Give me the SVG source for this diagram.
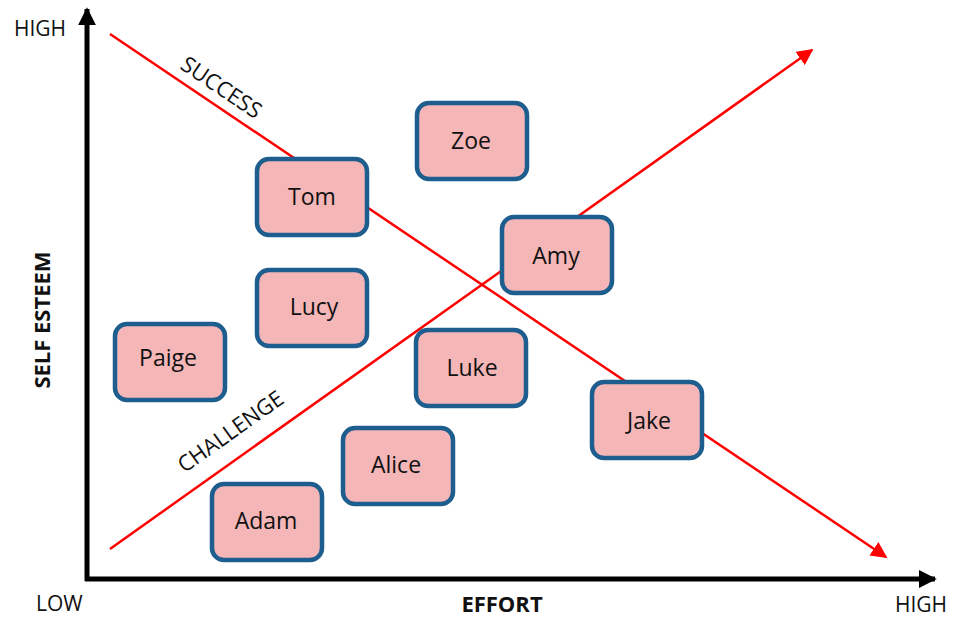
<svg xmlns="http://www.w3.org/2000/svg" width="955" height="618" viewBox="0 0 955 618">
<style>
.box{fill:#F4B6B7;stroke:#1D5E8E;stroke-width:4.5}
.nt{font-family:"Open Sans","Liberation Sans",sans-serif;font-size:23px;fill:#111;text-anchor:middle}
.lbl{font-family:"Open Sans","Liberation Sans",sans-serif;font-size:21px;fill:#111}
.diag{font-family:"Open Sans","Liberation Sans",sans-serif;font-size:22px;fill:#111;text-anchor:middle}
.bold{font-family:"Open Sans","Liberation Sans",sans-serif;font-size:22px;font-weight:bold;fill:#111;text-anchor:middle}
.red{stroke:#FF0000;stroke-width:2.5;fill:none}
.axis{stroke:#000;stroke-width:5;fill:none}
</style>
<defs>
<marker id="ra" viewBox="0 0 10 10" refX="9" refY="5" markerWidth="6.5" markerHeight="6.5" markerUnits="strokeWidth" orient="auto">
<path d="M0,0 L10,5 L0,10 z" fill="#FF0000"/>
</marker>
<marker id="ka" viewBox="0 0 10 10" refX="9" refY="5" markerWidth="3.6" markerHeight="3.6" markerUnits="strokeWidth" orient="auto">
<path d="M0,0 L10,5 L0,10 z" fill="#000"/>
</marker>
</defs>
<rect width="955" height="618" fill="#fff"/>
<g id="connectors">
<line class="axis" x1="87" y1="581" x2="87" y2="9" marker-end="url(#ka)"/>
<line class="axis" x1="85" y1="579" x2="935" y2="579" marker-end="url(#ka)"/>
<line class="red" x1="110" y1="34" x2="886" y2="557" marker-end="url(#ra)"/>
<line class="red" x1="110" y1="549" x2="812" y2="50" marker-end="url(#ra)"/>
</g>
<g id="labels">
<text class="lbl" x="14" y="36">HIGH</text>
<text class="lbl" x="36" y="611">LOW</text>
<text class="lbl" x="895" y="612">HIGH</text>
<text class="bold" x="502" y="612">EFFORT</text>
<text class="bold" transform="translate(50,320) rotate(-90)" x="0" y="0">SELF ESTEEM</text>
<text class="diag" transform="translate(221,88) rotate(34)" x="0" y="7">SUCCESS</text>
<text class="diag" transform="translate(231,432) rotate(-35.4)" x="0" y="7">CHALLENGE</text>
</g>
<g id="zoe"><rect class="box" x="417" y="103" width="110" height="76" rx="12"/><text class="nt" x="471" y="149">Zoe</text></g>
<g id="tom"><rect class="box" x="257" y="159" width="110" height="76" rx="12"/><text class="nt" x="312" y="205">Tom</text></g>
<g id="amy"><rect class="box" x="502" y="217" width="110" height="76" rx="12"/><text class="nt" x="556" y="264">Amy</text></g>
<g id="lucy"><rect class="box" x="257" y="270" width="110" height="76" rx="12"/><text class="nt" x="314" y="315">Lucy</text></g>
<g id="paige"><rect class="box" x="115" y="324" width="110" height="76" rx="12"/><text class="nt" x="168" y="366">Paige</text></g>
<g id="luke"><rect class="box" x="416" y="330" width="110" height="76" rx="12"/><text class="nt" x="472" y="376">Luke</text></g>
<g id="jake"><rect class="box" x="592" y="382" width="110" height="76" rx="12"/><text class="nt" x="649" y="429">Jake</text></g>
<g id="alice"><rect class="box" x="343" y="428" width="110" height="76" rx="12"/><text class="nt" x="396" y="473">Alice</text></g>
<g id="adam"><rect class="box" x="212" y="484" width="110" height="76" rx="12"/><text class="nt" x="266" y="529">Adam</text></g>
</svg>
